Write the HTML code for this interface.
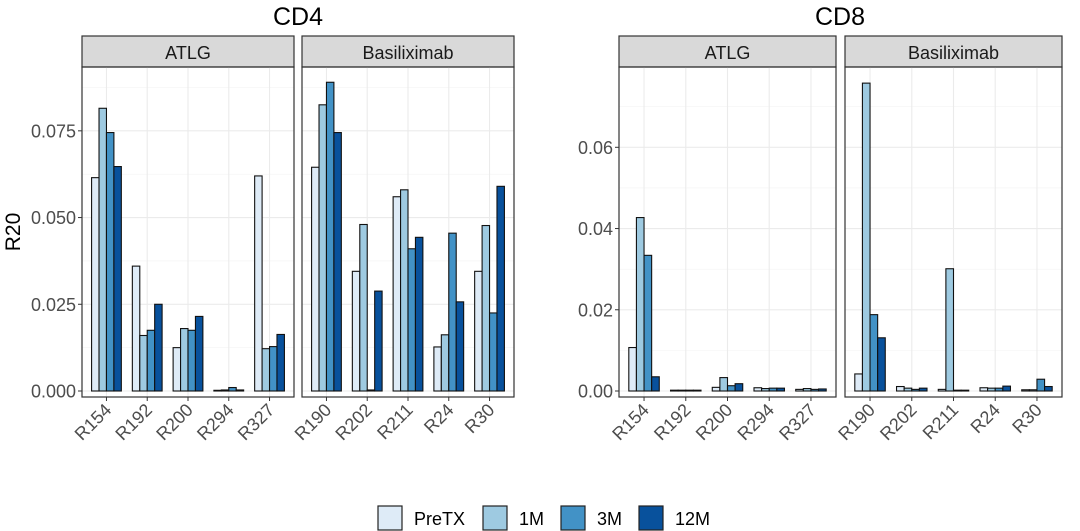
<!DOCTYPE html>
<html><head><meta charset="utf-8"><style>
body{margin:0;background:#fff;}
svg{display:block;font-family:"Liberation Sans",sans-serif;}
</style></head><body>
<svg id="chart" width="1080" height="531"></svg>
<script>
const seriesNames=["PreTX","1M","3M","12M"];
const colors=["#deebf7","#9ecae1","#4292c6","#08519c"];
const cd4AtlgCats=["R154","R192","R200","R294","R327"];
const cd4AtlgPre=[0.0615,0.036,0.0125,0.0002,0.062];
const cd4Atlg1M=[0.0815,0.016,0.018,0.0003,0.0122];
const cd4Atlg3M=[0.0745,0.0175,0.0175,0.001,0.0128];
const cd4Atlg12M=[0.0647,0.025,0.0215,0.0003,0.0163];
const cd4BasCats=["R190","R202","R211","R24","R30"];
const cd4BasPre=[0.0645,0.0345,0.056,0.0127,0.0345];
const cd4Bas1M=[0.0825,0.048,0.058,0.0162,0.0477];
const cd4Bas3M=[0.089,0.0003,0.041,0.0455,0.0225];
const cd4Bas12M=[0.0745,0.0288,0.0443,0.0257,0.059];
const cd8AtlgPre=[0.0107,0.0002,0.0009,0.0008,0.0004];
const cd8Atlg1M=[0.0427,0.0002,0.0033,0.0006,0.0006];
const cd8Atlg3M=[0.0334,0.0002,0.0013,0.0007,0.0004];
const cd8Atlg12M=[0.0035,0.0002,0.0018,0.0007,0.0005];
const cd8BasPre=[0.0042,0.0011,0.0004,0.0008,0.0003];
const cd8Bas1M=[0.0758,0.0007,0.0301,0.0007,0.0003];
const cd8Bas3M=[0.0188,0.0004,0.0002,0.0007,0.0029];
const cd8Bas12M=[0.0131,0.0007,0.0002,0.0012,0.0011];
const cd4Ticks=[0,0.025,0.05,0.075];
const cd4TickLabels=["0.000","0.025","0.050","0.075"];
const cd8Ticks=[0,0.02,0.04,0.06];
const cd8TickLabels=["0.00","0.02","0.04","0.06"];

const svg=document.getElementById('chart');
const NS="http://www.w3.org/2000/svg";
function mk(tag,attrs,parent,name,inter){
  const e=document.createElementNS(NS,tag);
  for(const k in attrs)e.setAttribute(k,attrs[k]);
  
  
  (parent||svg).appendChild(e);return e;
}
const plotTop=67,plotBottom=397;
function drawFacet(x0,x1,label,cats,series,ymax,ticks,tickLabels,showAxis,prefix){
  const w=x1-x0;
  const yScale=v=>391-v*(391-plotTop)/ymax;
  const step=w/(cats.length-1+1.2);
  const xc=i=>x0+step*(0.6+i);
  const g=mk('g',{},svg,prefix+'-panel',false);
  mk('rect',{x:x0,y:36,width:w,height:31,fill:'#d9d9d9',stroke:'#333','stroke-width':1.2},g,prefix+'-strip',false);
  const st=mk('text',{x:(x0+x1)/2,y:59,'text-anchor':'middle','font-size':18,fill:'#1a1a1a'},g,prefix+'-strip-label',false);st.textContent=label;
  ticks.forEach((t,i)=>{
    mk('line',{x1:x0,x2:x1,y1:yScale(t),y2:yScale(t),stroke:'#ebebeb','stroke-width':1.1},g,'gridline-major',false);
    if(i<ticks.length-1){const m=(t+ticks[i+1])/2;mk('line',{x1:x0,x2:x1,y1:yScale(m),y2:yScale(m),stroke:'#f3f3f3','stroke-width':0.6},g,'gridline-minor',false);}
  });
  const last=ticks[ticks.length-1]+(ticks[1]-ticks[0])/2;
  if(yScale(last)>plotTop)mk('line',{x1:x0,x2:x1,y1:yScale(last),y2:yScale(last),stroke:'#f3f3f3','stroke-width':0.6},g,'gridline-minor',false);
  cats.forEach((c,i)=>mk('line',{x1:xc(i),x2:xc(i),y1:plotTop,y2:plotBottom,stroke:'#ebebeb','stroke-width':1.1},g,'gridline-x',false));
  const bw=step*0.73/4;
  cats.forEach((c,i)=>{
    series.forEach((s,j)=>{
      const v=s[i];const bx=xc(i)-bw*2+j*bw;
      mk('rect',{x:bx,y:yScale(v),width:bw,height:391-yScale(v),fill:colors[j],stroke:'#111','stroke-width':1.1},g,'bar-'+prefix+'-'+c+'-'+seriesNames[j],true);
    });
    mk('line',{x1:xc(i),x2:xc(i),y1:plotBottom,y2:plotBottom+4,stroke:'#333','stroke-width':1},g,'x-tick',false);
    const t=mk('text',{x:0,y:0,'text-anchor':'end','font-size':18,fill:'#4d4d4d',transform:`translate(${xc(i)+6},${plotBottom+14}) rotate(-45)`},g,'x-tick-label',false);t.textContent=c;
  });
  mk('rect',{x:x0,y:plotTop,width:w,height:plotBottom-plotTop,fill:'none',stroke:'#333','stroke-width':1.2},g,prefix+'-border',false);
  if(showAxis){
    ticks.forEach((t,i)=>{
      mk('line',{x1:x0-4,x2:x0,y1:yScale(t),y2:yScale(t),stroke:'#333','stroke-width':1},g,'y-tick',false);
      const tl=mk('text',{x:x0-6,y:yScale(t)+6.5,'text-anchor':'end','font-size':18,fill:'#4d4d4d'},g,'y-tick-label',false);tl.textContent=tickLabels[i];
    });
  }
}
drawFacet(82,294,"ATLG",cd4AtlgCats,[cd4AtlgPre,cd4Atlg1M,cd4Atlg3M,cd4Atlg12M],0.0934,cd4Ticks,cd4TickLabels,true,'cd4-atlg');
drawFacet(302,514,"Basiliximab",cd4BasCats,[cd4BasPre,cd4Bas1M,cd4Bas3M,cd4Bas12M],0.0934,cd4Ticks,cd4TickLabels,false,'cd4-basiliximab');
const cd8Max=(391-plotTop)/((391-147.3)/0.06);
drawFacet(619,836,"ATLG",cd4AtlgCats,[cd8AtlgPre,cd8Atlg1M,cd8Atlg3M,cd8Atlg12M],cd8Max,cd8Ticks,cd8TickLabels,true,'cd8-atlg');
drawFacet(845,1062,"Basiliximab",cd4BasCats,[cd8BasPre,cd8Bas1M,cd8Bas3M,cd8Bas12M],cd8Max,cd8Ticks,cd8TickLabels,false,'cd8-basiliximab');
let t=mk('text',{x:298,y:25,'text-anchor':'middle','font-size':25,fill:'#000'},svg,'cd4-title',false);t.textContent='CD4';
t=mk('text',{x:840,y:25,'text-anchor':'middle','font-size':25,fill:'#000'},svg,'cd8-title',false);t.textContent='CD8';
t=mk('text',{x:0,y:0,'text-anchor':'middle','font-size':21,fill:'#000',transform:'translate(20,232) rotate(-90)'},svg,'y-axis-title',false);t.textContent='R20';
const lx=[378,483,561,639];
seriesNames.forEach((n,j)=>{
  const lg=mk('g',{},svg,'legend-entry-'+n,true);
  mk('rect',{x:lx[j],y:506,width:24,height:24,fill:colors[j],stroke:'#222','stroke-width':1.2},lg,'legend-swatch',false);
  const tt=mk('text',{x:lx[j]+36,y:525,'font-size':18,fill:'#000'},lg,'legend-label',false);tt.textContent=n;
});
</script>
</body></html>
